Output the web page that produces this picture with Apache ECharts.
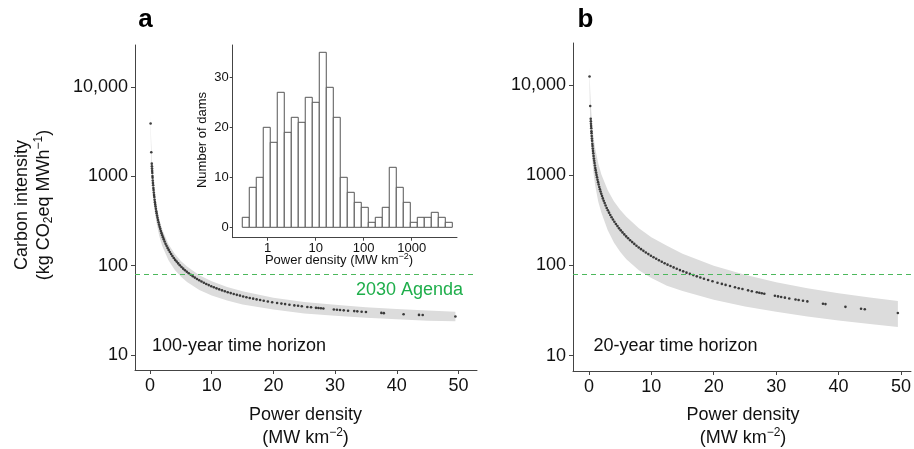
<!DOCTYPE html>
<html><head><meta charset="utf-8">
<script src="https://cdn.jsdelivr.net/npm/echarts@6.0.0/dist/echarts.min.js"></script>
<style>html,body{margin:0;padding:0;background:#fff}#c{width:914px;height:449px}</style>
</head><body><div id="c"></div>
<script>
// ---- data ----
const powerDensity = [0.10,0.21,0.29,0.31,0.33,0.35,0.37,0.40,0.42,0.45,0.48,0.51,0.55,0.58,0.62,0.66,0.70,0.75,0.80,0.85,0.90,0.96,1.02,1.08,1.15,1.22,1.30,1.38,1.47,1.56,1.66,1.76,1.87,1.98,2.10,2.23,2.37,2.52,2.68,2.85,3.03,3.22,3.42,3.63,3.85,4.08,4.32,4.57,4.83,5.10,5.38,5.67,5.97,6.28,6.60,6.93,7.27,7.62,7.98,8.35,8.73,9.12,9.52,9.93,10.35,10.78,11.22,11.67,12.13,12.60,13.08,13.57,14.07,14.58,15.10,15.63,16.17,16.72,17.28,17.85,18.43,19.1,19.8,20.6,21.3,21.9,22.6,23.4,24.0,24.6,25.5,26.1,26.9,27.3,27.7,28.1,29.8,30.3,30.8,31.4,32.1,33.1,33.6,34.3,35.0,37.5,37.9,41.1,43.6,44.2,49.5];
const carbon100yr = [3900,1860,1385,1296,1219,1150,1089,1009,962,899,844,795,739,702,658,619,585,547,514,485,459,432,407,386,363,344,324,306,288,273,258,244,231,219,208,197,186,176,167,158,150,142,135,128,122,116,111,106,101,96.6,92.6,88.8,85.3,82.1,79,76.1,73.5,71,68.6,66.4,64.4,62.4,60.6,58.9,57.3,55.7,54.3,52.9,51.6,50.4,49.3,48.2,47.1,46.2,45.2,44.3,43.5,42.7,41.9,41.2,40.5,39.7,39,38.2,37.6,37.1,36.5,35.9,35.5,35.1,34.5,34.2,33.7,33.5,33.3,33.1,32.3,32.1,31.9,31.6,31.3,31,30.8,30.5,30.3,29.6,29.4,28.6,28.1,28,27];
const carbon20yr = [12400,5850,4226,3953,3714,3502,3313,3065,2919,2725,2555,2405,2230,2115,1979,1860,1754,1637,1535,1445,1365,1280,1205,1138,1069,1008,947,892,838,790,742,700,660,623,588,554,521,491,462,434,409,385,363,342,323,305,288,273,258,245,232.5,221,210,200,190.5,181.6,173.4,165.6,158.4,151.6,145.2,139.2,133.6,128.3,123.3,118.5,114.1,109.9,105.9,102.1,98.6,95.2,92,88.9,86.1,83.3,80.7,78.2,75.8,73.6,71.4,69.1,66.8,64.4,62.5,60.9,59.2,57.3,56,54.8,53,51.9,50.5,49.8,49.2,48.6,46.1,45.4,44.7,44,43.1,42,41.4,40.7,40,37.6,37.3,34.8,33.1,32.7,29.7];

const bandPD      = [0.1,0.15,0.2,0.3,0.5,0.75,1,1.5,2,3,4,5,6,8,10,12.5,15,20,25,30,35,40,45,49.5];
const band100High = [4775,3191,2399,1593,957,640,486,328,252,174,136,113,97.8,78.1,66.8,57.8,51.8,43.8,39.3,36.4,34.2,32.7,31.4,30.5];
const band100Low  = [3382,2207,1639,1071,633,421,315,215,165,115,89.7,75.6,65.5,53.4,46.3,40.6,36.8,32.2,29.2,27.4,26.1,25.1,24.2,23.8];
const band20High  = [15900,11430,8880,6128,3802,2619,1991,1346,1018,686,516,415,347,259,206,165,135,99.3,78.8,65,56,49.1,44.1,40.4];
const band20Low   = [9180,5716,4165,2696,1594,1048,774,509,383,248,180,142,117,88.5,72.6,59.7,52,41.7,35.1,30.7,27.2,24.6,22.5,20.8];

const agendaTarget = 80;

const histEdges  = [0.296,0.414,0.579,0.809,1.132,1.585,2.218,3.105,4.335,6.067,8.49,11.89,16.63,23.28,32.5,45.5,63.7,89.1,124.7,174.6,243.8,341.2,477.5,668.3,935.4,1309,1828,2559,3581,5012,7015];
const histCounts = [2,8,10,20,17,27,19,22,21,26,25,35,28,22,10,7,5,4,1,2,4,12,8,5,1,2,2,3,2,1];

const mainXTicks = [0,10,20,30,40,50];
const mainYTicks = [10,100,1000,10000];
const histXTicks = [1,10,100,1000];
const histYTicks = [0,10,20,30];

// ---- chart ----
const FONT = '"Liberation Sans", Arial, Helvetica, sans-serif';
const AX = '#444';
const chart = echarts.init(document.getElementById('c'), null, {renderer:'canvas'});

function fmtY(v){ return v >= 10000 ? '10,000' : String(Math.round(v)); }

function mainX(grid, min, max){
  return {gridIndex:grid, type:'value', min:min, max:max,
    axisLine:{show:true, onZero:false, lineStyle:{color:AX, width:1}},
    axisTick:{show:true, length:4, customValues:mainXTicks, lineStyle:{color:AX}},
    axisLabel:{customValues:mainXTicks, fontSize:18, color:'#111', margin:7, fontFamily:FONT},
    splitLine:{show:false}};
}
function mainY(grid, min, max){
  return {gridIndex:grid, type:'log', logBase:10, min:min, max:max,
    axisLine:{show:true, onZero:false, lineStyle:{color:AX, width:1}},
    axisTick:{show:true, length:4, customValues:mainYTicks, lineStyle:{color:AX}},
    axisLabel:{customValues:mainYTicks, fontSize:18, color:'#111', margin:7, fontFamily:FONT, formatter:fmtY},
    splitLine:{show:false}};
}
function bandSeries(xi, lo, hi){
  return {type:'custom', xAxisIndex:xi, yAxisIndex:xi, silent:true, z:1,
    data: bandPD.map((x,i)=>[x, lo[i], hi[i]]),
    encode:{x:0, y:[1,2]},
    renderItem:function(params, api){
      if (params.dataIndex !== 0) return null;
      const pts = [];
      for (let i=0;i<bandPD.length;i++) pts.push(api.coord([bandPD[i], hi[i]]));
      for (let i=bandPD.length-1;i>=0;i--) pts.push(api.coord([bandPD[i], lo[i]]));
      return {type:'polygon', shape:{points:pts}, style:{fill:'#dcdcdc', stroke:null}};
    }};
}
function dotSeries(xi, ys){
  return {type:'scatter', xAxisIndex:xi, yAxisIndex:xi, z:3, silent:true,
    symbol:'circle', symbolSize:2.6, itemStyle:{color:'#111'},
    data: powerDensity.map((x,i)=>[x, ys[i]]),
    markLine:{silent:true, symbol:'none', label:{show:false}, z:4,
      lineStyle:{type:[5,4], color:'#4cb85c', width:1}, data:[{yAxis:agendaTarget}]}};
}

const txt = (x,y,text,size,opts) => Object.assign({type:'text', x:x, y:y, z:10,
  style:Object.assign({text:text, fontSize:size, fontFamily:FONT, fill:'#111', align:'center', verticalAlign:'middle'}, opts||{})});

const option = {
  animation:false,
  backgroundColor:'#fff',
  grid:[
    {left:135, top:45, width:342, height:325},
    {left:573, top:43, width:340, height:328},
    {left:232.7, top:45, width:224.3, height:192.7}
  ],
  xAxis:[
    mainX(0, -2.43, 53),
    mainX(1, -2.55, 51.6),
    {gridIndex:2, type:'log', logBase:10, min:0.187, max:8790,
      axisLine:{show:true, onZero:false, lineStyle:{color:AX}},
      axisTick:{show:true, length:3, customValues:histXTicks, lineStyle:{color:AX}},
      axisLabel:{customValues:histXTicks, fontSize:13, color:'#111', margin:4, fontFamily:FONT, formatter:v=>String(Math.round(v))},
      splitLine:{show:false}}
  ],
  yAxis:[
    mainY(0, 6.79, 29500),
    mainY(1, 6.77, 29200),
    {gridIndex:2, type:'value', min:-2.08, max:36.46,
      axisLine:{show:true, onZero:false, lineStyle:{color:AX}},
      axisTick:{show:true, length:3, customValues:histYTicks, lineStyle:{color:AX}},
      axisLabel:{customValues:histYTicks, fontSize:13, color:'#111', margin:4, fontFamily:FONT},
      splitLine:{show:false}}
  ],
  series:[
    bandSeries(0, band100Low, band100High),
    dotSeries(0, carbon100yr),
    bandSeries(1, band20Low, band20High),
    dotSeries(1, carbon20yr),
    {type:'custom', xAxisIndex:2, yAxisIndex:2, z:5, silent:true,
      data: histCounts.map((c,i)=>[histEdges[i], histEdges[i+1], c]),
      encode:{x:[0,1], y:2},
      renderItem:function(params, api){
        const p0 = api.coord([api.value(0), 0]);
        const p1 = api.coord([api.value(1), api.value(2)]);
        return {type:'rect', shape:{x:p0[0], y:p1[1], width:p1[0]-p0[0], height:p0[1]-p1[1]},
          style:{fill:'#fff', stroke:'#555', lineWidth:1}};
      }}
  ],
  graphic:[
    txt(145.5, 19.5, 'a', 26, {fontWeight:'bold', fill:'#000'}),
    txt(585.5, 19.5, 'b', 26, {fontWeight:'bold', fill:'#000'}),
    Object.assign(txt(22, 205, 'Carbon intensity', 18), {rotation:Math.PI/2}),
    Object.assign(txt(44, 205, '{n|(kg CO}{sub|2}{n|eq MWh}{sup|−1}{n|)}', 18, {
      rich:{n:{fontSize:18, fontFamily:FONT, fill:'#111', lineHeight:22},
            sub:{fontSize:12, fontFamily:FONT, fill:'#111', verticalAlign:'bottom', lineHeight:22},
            sup:{fontSize:12, fontFamily:FONT, fill:'#111', verticalAlign:'top', lineHeight:22}}}), {rotation:Math.PI/2}),
    txt(305.5, 415, 'Power density', 18),
    txt(305.5, 438, '{n|(MW km}{sup|−2}{n|)}', 18, {rich:{n:{fontSize:18, fontFamily:FONT, fill:'#111', lineHeight:22}, sup:{fontSize:12, fontFamily:FONT, fill:'#111', verticalAlign:'top', lineHeight:22}}}),
    txt(743, 415, 'Power density', 18),
    txt(743, 438, '{n|(MW km}{sup|−2}{n|)}', 18, {rich:{n:{fontSize:18, fontFamily:FONT, fill:'#111', lineHeight:22}, sup:{fontSize:12, fontFamily:FONT, fill:'#111', verticalAlign:'top', lineHeight:22}}}),
    txt(152, 346, '100-year time horizon', 18, {align:'left'}),
    txt(593.5, 346, '20-year time horizon', 18, {align:'left'}),
    txt(463, 290, '2030 Agenda', 18, {align:'right', fill:'#1fae4b'}),
    Object.assign(txt(202, 140, 'Number of dams', 13), {rotation:Math.PI/2}),
    txt(339, 260.5, '{n|Power density (MW km}{sup|−2}{n|)}', 13, {rich:{n:{fontSize:13, fontFamily:FONT, fill:'#111', lineHeight:16}, sup:{fontSize:9, fontFamily:FONT, fill:'#111', verticalAlign:'top', lineHeight:16}}})
  ]
};
chart.setOption(option);
</script></body></html>
